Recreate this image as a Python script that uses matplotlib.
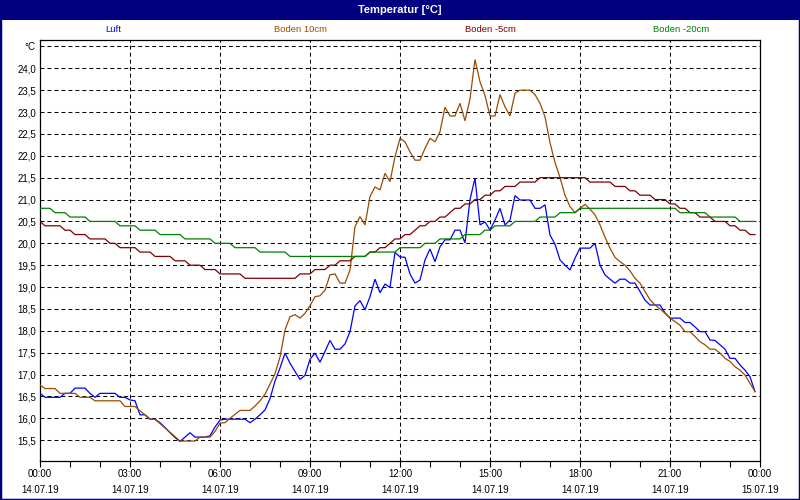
import numpy as np
import matplotlib
matplotlib.use("Agg")
import matplotlib.pyplot as plt
from matplotlib.patches import Rectangle
from matplotlib.ticker import MultipleLocator

# ---------------- data (10-minute samples, 14.07.19 00:00 .. 23:50) ----------------
series_names = ["Luft", "Boden 10cm", "Boden -5cm", "Boden -20cm"]
series_colors = ["#0000FF", "#994C00", "#800000", "#008000"]
interval_minutes = 10

luft = [
    16.57, 16.48, 16.48, 16.48, 16.48, 16.57, 16.57, 16.69, 16.69, 16.69, 16.57, 16.48,
    16.57, 16.57, 16.57, 16.57, 16.48, 16.48, 16.42, 16.40, 16.08, 16.08, 15.98, 15.98,
    15.90, 15.79, 15.67, 15.56, 15.47, 15.57, 15.67, 15.57, 15.57, 15.57, 15.60, 15.80,
    15.96, 15.98, 15.98, 15.98, 15.98, 15.98, 15.90, 15.98, 16.08, 16.19, 16.45, 16.85,
    17.15, 17.49, 17.26, 17.07, 16.89, 16.98, 17.35, 17.49, 17.28, 17.53, 17.78, 17.58,
    17.58, 17.70, 17.98, 18.57, 18.69, 18.48, 18.78, 19.18, 18.87, 19.07, 18.99, 19.79,
    19.69, 19.68, 19.30, 19.09, 19.16, 19.62, 19.87, 19.58, 19.92, 20.08, 20.08, 20.30,
    20.30, 20.01, 21.00, 21.49, 20.42, 20.49, 20.30, 20.53, 20.80, 20.42, 20.53, 21.09,
    20.99, 20.99, 20.99, 20.80, 20.80, 20.88, 20.19, 19.98, 19.62, 19.50, 19.39, 19.66,
    19.89, 19.89, 19.89, 20.00, 19.50, 19.28, 19.18, 19.09, 19.18, 19.18, 19.09, 19.09,
    18.90, 18.70, 18.59, 18.59, 18.59, 18.41, 18.29, 18.29, 18.29, 18.19, 18.19, 18.09,
    17.98, 17.98, 17.79, 17.78, 17.68, 17.58, 17.37, 17.37, 17.22, 17.10, 16.95, 16.61,
]

boden_10cm = [
    16.76, 16.68, 16.68, 16.68, 16.57, 16.57, 16.57, 16.57, 16.48, 16.48, 16.48, 16.40,
    16.40, 16.40, 16.40, 16.40, 16.40, 16.27, 16.27, 16.27, 16.17, 16.08, 15.98, 15.98,
    15.88, 15.78, 15.68, 15.58, 15.48, 15.48, 15.48, 15.48, 15.57, 15.57, 15.57, 15.70,
    15.89, 15.90, 16.00, 16.09, 16.18, 16.18, 16.18, 16.28, 16.40, 16.55, 16.78, 17.02,
    17.40, 18.02, 18.32, 18.37, 18.29, 18.40, 18.57, 18.78, 18.80, 18.93, 19.28, 19.30,
    19.09, 19.09, 19.39, 20.38, 20.61, 20.42, 21.07, 21.29, 21.22, 21.60, 21.41, 21.98,
    22.40, 22.32, 22.09, 21.90, 21.90, 22.17, 22.40, 22.32, 22.55, 23.11, 22.91, 22.91,
    23.20, 22.80, 23.30, 24.20, 23.69, 23.38, 22.91, 22.91, 23.40, 23.12, 22.91, 23.43,
    23.50, 23.50, 23.50, 23.40, 23.20, 22.89, 22.30, 21.85, 21.50, 21.10, 20.84, 20.70,
    20.80, 20.89, 20.78, 20.65, 20.42, 20.14, 19.89, 19.68, 19.58, 19.50, 19.37, 19.20,
    19.09, 18.90, 18.71, 18.59, 18.50, 18.40, 18.29, 18.21, 18.13, 17.98, 17.98, 17.87,
    17.75, 17.68, 17.58, 17.58, 17.49, 17.37, 17.30, 17.18, 17.10, 16.99, 16.80, 16.61,
]

boden_minus5cm = [
    20.5, 20.4, 20.4, 20.4, 20.4, 20.3, 20.3, 20.2, 20.2, 20.2, 20.1, 20.1,
    20.1, 20.1, 20.0, 20.0, 19.9, 19.9, 19.9, 19.9, 19.8, 19.8, 19.8, 19.7,
    19.7, 19.7, 19.7, 19.6, 19.6, 19.6, 19.5, 19.5, 19.5, 19.4, 19.4, 19.4,
    19.3, 19.3, 19.3, 19.3, 19.3, 19.2, 19.2, 19.2, 19.2, 19.2, 19.2, 19.2,
    19.2, 19.2, 19.2, 19.2, 19.3, 19.3, 19.3, 19.4, 19.4, 19.4, 19.5, 19.5,
    19.6, 19.6, 19.6, 19.7, 19.7, 19.7, 19.8, 19.8, 19.9, 19.9, 20.0, 20.1,
    20.1, 20.2, 20.2, 20.3, 20.4, 20.4, 20.5, 20.5, 20.6, 20.6, 20.7, 20.8,
    20.8, 20.9, 20.9, 21.0, 21.0, 21.1, 21.1, 21.2, 21.2, 21.3, 21.3, 21.3,
    21.4, 21.4, 21.4, 21.4, 21.5, 21.5, 21.5, 21.5, 21.5, 21.5, 21.5, 21.5,
    21.5, 21.5, 21.4, 21.4, 21.4, 21.4, 21.4, 21.3, 21.3, 21.3, 21.2, 21.2,
    21.1, 21.1, 21.1, 21.0, 21.0, 21.0, 20.9, 20.9, 20.8, 20.8, 20.7, 20.7,
    20.6, 20.6, 20.6, 20.5, 20.5, 20.5, 20.4, 20.4, 20.3, 20.3, 20.2, 20.2,
]

boden_minus20cm = [
    20.8, 20.8, 20.8, 20.7, 20.7, 20.7, 20.6, 20.6, 20.6, 20.6, 20.5, 20.5,
    20.5, 20.5, 20.5, 20.5, 20.4, 20.4, 20.4, 20.4, 20.3, 20.3, 20.3, 20.3,
    20.2, 20.2, 20.2, 20.2, 20.2, 20.1, 20.1, 20.1, 20.1, 20.1, 20.1, 20.0,
    20.0, 20.0, 20.0, 19.9, 19.9, 19.9, 19.9, 19.9, 19.8, 19.8, 19.8, 19.8,
    19.8, 19.8, 19.7, 19.7, 19.7, 19.7, 19.7, 19.7, 19.7, 19.7, 19.7, 19.7,
    19.7, 19.7, 19.7, 19.7, 19.7, 19.7, 19.8, 19.8, 19.8, 19.8, 19.8, 19.8,
    19.9, 19.9, 19.9, 19.9, 19.9, 20.0, 20.0, 20.0, 20.1, 20.1, 20.1, 20.1,
    20.1, 20.2, 20.2, 20.2, 20.2, 20.3, 20.3, 20.4, 20.4, 20.4, 20.4, 20.5,
    20.5, 20.5, 20.5, 20.5, 20.6, 20.6, 20.6, 20.6, 20.7, 20.7, 20.7, 20.7,
    20.8, 20.8, 20.8, 20.8, 20.8, 20.8, 20.8, 20.8, 20.8, 20.8, 20.8, 20.8,
    20.8, 20.8, 20.8, 20.8, 20.8, 20.8, 20.8, 20.8, 20.7, 20.7, 20.7, 20.7,
    20.7, 20.7, 20.6, 20.6, 20.6, 20.6, 20.6, 20.6, 20.5, 20.5, 20.5, 20.5,
]

title_text = "Temperatur [°C]"
x_tick_hours = [0, 3, 6, 9, 12, 15, 18, 21, 24]
x_tick_times = ["00:00", "03:00", "06:00", "09:00", "12:00", "15:00", "18:00", "21:00", "00:00"]
x_tick_dates = ["14.07.19"] * 8 + ["15.07.19"]
y_tick_values = [15.5, 16.0, 16.5, 17.0, 17.5, 18.0, 18.5, 19.0, 19.5, 20.0,
                 20.5, 21.0, 21.5, 22.0, 22.5, 23.0, 23.5, 24.0, 24.5]
y_tick_labels = ["15,5", "16,0", "16,5", "17,0", "17,5", "18,0", "18,5", "19,0", "19,5", "20,0",
                 "20,5", "21,0", "21,5", "22,0", "22,5", "23,0", "23,5", "24,0", "°C"]

# ---------------- figure ----------------
plt.rcParams['font.family'] = ['Liberation Sans', 'DejaVu Sans']
W, H = 800, 500
fig = plt.figure(figsize=(W / 100, H / 100), dpi=100)
fig.patch.set_facecolor("white")

navy = "#000080"
# title bar
fig.add_artist(Rectangle((0, 1 - 20 / H), 1, 20 / H, transform=fig.transFigure,
                         facecolor=navy, edgecolor="none", zorder=5))
fig.text(0.5, 1 - 10 / H, title_text, color="white", fontsize=8, fontweight="bold",
         ha="center", va="center", zorder=6)
# window border
fig.add_artist(Rectangle((0, 0), 1, 1, transform=fig.transFigure, fill=False,
                         edgecolor=navy, linewidth=2.5, zorder=7))

# legend labels row
legend_x = [113, 301, 490, 681]
for name, col, lx in zip(series_names, series_colors, legend_x):
    fig.text(lx / W, 1 - 30 / H, name, color=col, fontsize=6.8, ha="center", va="center")

ax = fig.add_axes([40 / W, 39 / H, 720 / W, 421 / H])
ax.set_facecolor("white")

times = np.arange(len(luft)) * interval_minutes / 60.0
for vals, col in zip([luft, boden_10cm, boden_minus5cm, boden_minus20cm], series_colors):
    ax.plot(times, vals, color=col, linewidth=0.9, solid_joinstyle="miter", zorder=3)

ax.set_xlim(0, 24)
ax.set_ylim(15.024, 24.647)

ax.set_xticks(x_tick_hours)
ax.set_xticklabels([f"{t}\n{d}" for t, d in zip(x_tick_times, x_tick_dates)],
                   fontsize=7, linespacing=1.75)
ax.xaxis.set_minor_locator(MultipleLocator(1))
ax.tick_params(axis="x", which="both", direction="out", length=4, width=0.8, pad=2, colors="black")

ax.set_yticks(y_tick_values)
ax.set_yticklabels(y_tick_labels, fontsize=7)
ax.tick_params(axis="y", which="both", length=0, pad=3, colors="black")

for sp in ax.spines.values():
    sp.set_color("black")
    sp.set_linewidth(0.9)

grid_kw = dict(color="black", linewidth=0.75, linestyle=(0, (3.8, 2.9)), zorder=1)
for yv in y_tick_values:
    ax.axhline(yv, **grid_kw)
for xv in x_tick_hours[1:-1]:
    ax.axvline(xv, **grid_kw)

fig.savefig("out.png", dpi=100, facecolor="white")
